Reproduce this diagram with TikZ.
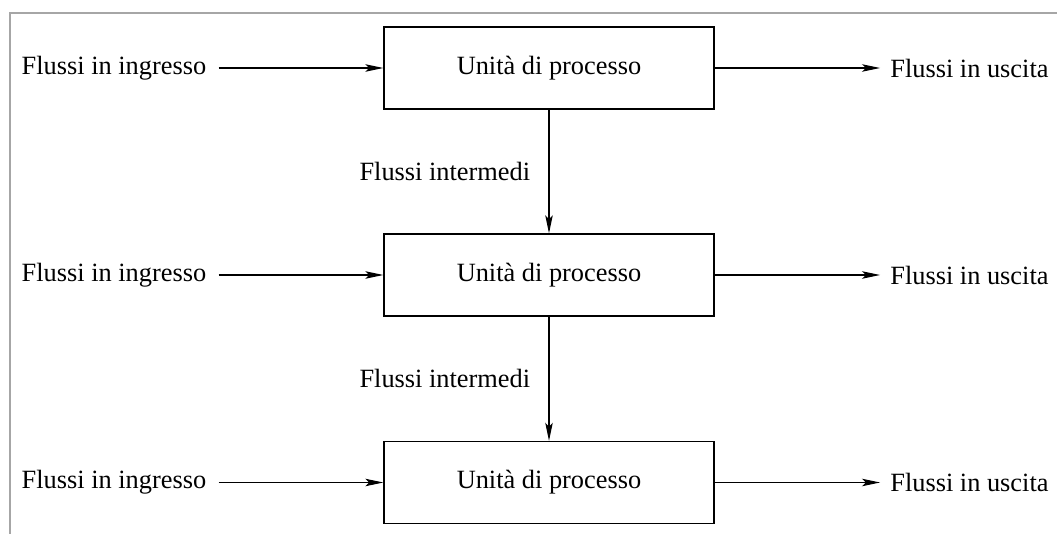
\documentclass[tikz,border=0pt]{standalone}
\usepackage{fontspec}
\setmainfont{Liberation Serif}
\usetikzlibrary{arrows.meta}

\tikzset{
  unita/.style={draw, line width=0.8pt, minimum width=6.6cm, minimum height=1.64cm},
  flusso/.style={line width=0.6pt, -{Stealth[length=3.6mm, width=1.5mm, inset=0.8mm]}},
  testo/.style={inner sep=0pt}
}

\begin{document}
\begin{tikzpicture}[font=\fontsize{15}{18}\selectfont]
    \useasboundingbox (0,0) rectangle (21.14,10.68);
    \draw[gray!70, line width=0.6pt] (21.14,10.42) -- (0.2,10.42) -- (0.2,0);
    % unita di processo
    \node[unita] (U1) at (10.98,9.32) {Unità di processo};
    \node[unita] (U2) at (10.98,5.18) {Unità di processo};
    \node[unita] (U3) at (10.98,1.03) {Unità di processo};
    % flussi
    \foreach \u in {1,2,3} {
        \node[testo] (I\u) at (2.28,0 |- U\u) {Flussi in ingresso};
        \node[testo, anchor=west] (O\u) at (17.8,0 |- U\u) {Flussi in uscita};
        \draw[flusso] ([xshift=0.24cm]I\u.east) -- (U\u.west);
        \draw[flusso] (U\u.east) -- ([xshift=-0.2cm]O\u.west);
    }
    \draw[flusso] (U1) -- node[left=0.25cm] {Flussi intermedi} (U2);
    \draw[flusso] (U2) -- node[left=0.25cm] {Flussi intermedi} (U3);
\end{tikzpicture}
\end{document}
